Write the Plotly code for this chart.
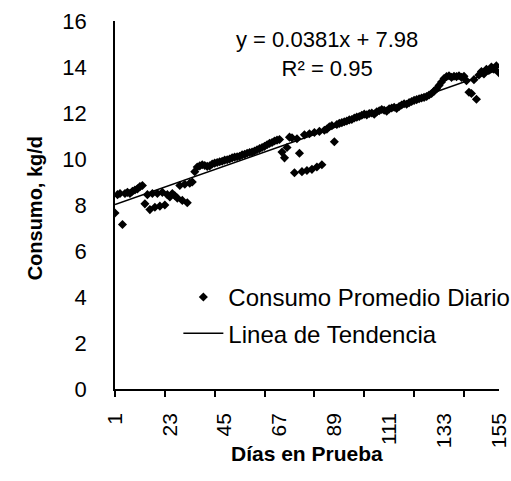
import numpy as np
import plotly.graph_objects as go

# Average daily intake (kg/d) for each day on test
dias = list(range(1, 156))
consumo = [
    7.65, 8.45, 8.50, 7.15, 8.50, 8.55, 8.50, 8.60, 8.65, 8.70,
    8.80, 8.85, 8.05, 8.45, 7.80, 8.50, 7.90, 8.50, 7.95, 8.55,
    8.00, 8.45, 8.35, 8.50, 8.40, 8.30, 8.85, 8.20, 8.90, 8.10,
    8.95, 9.00, 9.45, 9.65, 9.70, 9.75, 9.72, 9.68, 9.70, 9.78,
    9.82, 9.85, 9.88, 9.90, 9.95, 9.97, 10.00, 10.05, 10.08, 10.10,
    10.12, 10.18, 10.20, 10.25, 10.28, 10.30, 10.35, 10.40, 10.45, 10.50,
    10.55, 10.62, 10.68, 10.72, 10.78, 10.82, 10.85, 10.30, 10.05, 10.50,
    10.95, 10.92, 9.40, 10.88, 10.25, 9.45, 11.05, 9.50, 11.10, 9.55,
    11.15, 9.65, 11.20, 9.75, 11.25, 11.30, 11.40, 11.45, 10.75, 11.50,
    11.55, 11.58, 11.62, 11.65, 11.70, 11.72, 11.78, 11.82, 11.85, 11.90,
    11.95, 11.92, 11.98, 12.00, 11.95, 12.05, 12.10, 12.15, 12.12, 12.08,
    12.18, 12.22, 12.25, 12.20, 12.28, 12.35, 12.40, 12.38, 12.45, 12.50,
    12.55, 12.58, 12.62, 12.65, 12.68, 12.72, 12.78, 12.85, 12.95, 13.05,
    13.20, 13.35, 13.50, 13.58, 13.62, 13.55, 13.60, 13.58, 13.62, 13.55,
    13.60, 13.40, 12.90, 12.85, 13.45, 12.60, 13.65, 13.80, 13.70, 13.90,
    13.85, 14.00, 13.90, 14.05, 13.75,
]

# Linear trend reported on the chart
pendiente = 0.0381
intercepto = 7.98
r2 = 0.95

x_ticks = [1, 23, 45, 67, 89, 111, 133, 155]
y_ticks = [0, 2, 4, 6, 8, 10, 12, 14, 16]

FONT = "Liberation Sans, Arial, sans-serif"

x_trend = np.array([dias[0], dias[-1]], dtype=float)
y_trend = pendiente * x_trend + intercepto

fig = go.Figure()
fig.add_trace(go.Scatter(
    x=dias, y=consumo, mode="markers",
    name="Consumo Promedio Diario",
    marker=dict(symbol="diamond", size=7, color="black"),
    legendgroup="a",
))
fig.add_trace(go.Scatter(
    x=x_trend, y=y_trend, mode="lines",
    name="Linea de Tendencia",
    line=dict(color="black", width=1.6),
    legendgroup="b",
))

fig.add_annotation(
    x=86.2, y=14.55, xref="x", yref="y",
    text=f"y = {pendiente}x + {intercepto}<br>R² = {r2}",
    showarrow=False, align="center",
    font=dict(family=FONT, size=22, color="black"),
)
fig.add_annotation(
    x=-0.243, y=0.49, xref="paper", yref="paper",
    text="Consumo, kg/d", textangle=-90, showarrow=False,
    font=dict(family=FONT, size=20, color="black", weight="bold"),
)
fig.add_annotation(
    x=0.5, y=-0.212, xref="paper", yref="paper",
    text="Días en Prueba", showarrow=False,
    font=dict(family=FONT, size=21, color="black", weight="bold"),
)

fig.update_layout(
    width=511, height=481,
    margin=dict(l=115, r=12, t=21, b=92, autoexpand=False),
    paper_bgcolor="white", plot_bgcolor="white",
    font=dict(family=FONT, size=22, color="black"),
    showlegend=True,
    legend=dict(
        x=0.165, y=0.31, xanchor="left", yanchor="top",
        bgcolor="rgba(0,0,0,0)", borderwidth=0,
        font=dict(family=FONT, size=24, color="black"),
        traceorder="grouped", tracegroupgap=2,
        itemwidth=40,
    ),
    xaxis=dict(
        range=[1, 155.05], tickmode="array", tickvals=x_ticks,
        ticktext=[str(v) for v in x_ticks], tickangle=-90,
        tickfont=dict(size=21),
        ticks="", ticklabelstandoff=14, ticklabeloverflow="allow",
        showline=True, linecolor="black", linewidth=1.5,
        showgrid=False, zeroline=False,
        minor=dict(tickmode="linear", tick0=1, dtick=20, ticks="outside",
                   ticklen=6, tickwidth=1.5, tickcolor="black", showgrid=False),
    ),
    yaxis=dict(
        range=[0, 16], tickmode="array", tickvals=y_ticks,
        ticks="", ticklabelstandoff=22,
        showline=True, linecolor="black", linewidth=1.5,
        showgrid=False, zeroline=False,
    ),
)

fig.write_html("out.html")
